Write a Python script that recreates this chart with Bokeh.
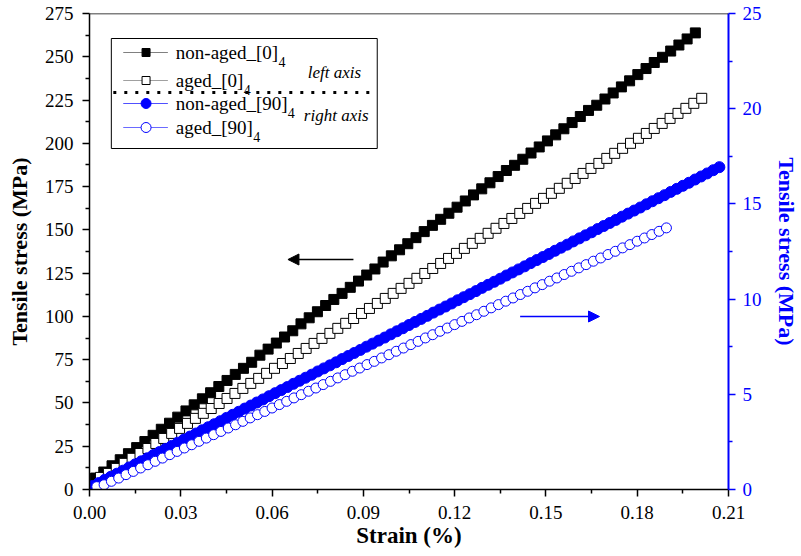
from bokeh.plotting import figure
from bokeh.models import (Range1d, LinearAxis, FixedTicker, PrintfTickFormatter,
                          Span, Arrow, NormalHead)
from bokeh.core.properties import value
from bokeh.embed import file_html
from bokeh.resources import INLINE

# ---------------- data ----------------
strain_na0 = [0.0020, 0.0047, 0.0074, 0.0101, 0.0128, 0.0155, 0.0182, 0.0209, 0.0236, 0.0263,
              0.0290, 0.0317, 0.0344, 0.0371, 0.0398, 0.0425, 0.0452, 0.0479, 0.0506, 0.0533,
              0.0560, 0.0587, 0.0614, 0.0641, 0.0668, 0.0695, 0.0722, 0.0749, 0.0776, 0.0803,
              0.0830, 0.0857, 0.0884, 0.0911, 0.0938, 0.0965, 0.0992, 0.1019, 0.1046, 0.1073,
              0.1100, 0.1127, 0.1154, 0.1181, 0.1208, 0.1235, 0.1262, 0.1289, 0.1316, 0.1343,
              0.1370, 0.1397, 0.1424, 0.1451, 0.1478, 0.1505, 0.1532, 0.1559, 0.1586, 0.1613,
              0.1640, 0.1667, 0.1694, 0.1721, 0.1748, 0.1775, 0.1802, 0.1829, 0.1856, 0.1883,
              0.1910, 0.1937, 0.1964, 0.1991]
stress_na0 = [6.6, 10.1, 13.7, 17.2, 20.7, 24.2, 27.7, 31.3, 34.8, 38.3,
              41.8, 45.4, 48.9, 52.4, 55.9, 59.5, 63.0, 66.5, 70.0, 73.5,
              77.6, 81.1, 84.6, 88.1, 91.7, 95.7, 99.2, 102.7, 106.3, 109.8,
              113.3, 116.8, 120.4, 123.9, 127.4, 131.4, 135.0, 138.5, 142.0, 145.5,
              149.0, 152.6, 156.1, 159.6, 163.1, 166.7, 170.2, 173.7, 177.2, 180.8,
              184.3, 187.3, 190.8, 194.4, 197.9, 201.4, 204.9, 208.4, 212.0, 215.5,
              219.0, 222.0, 225.6, 229.1, 232.6, 236.1, 239.7, 243.2, 246.7, 249.7,
              253.3, 256.8, 260.3, 263.8]

strain_a0 = [0.0036, 0.0062, 0.0088, 0.0114, 0.0140, 0.0166, 0.0192, 0.0218, 0.0244, 0.0270,
             0.0296, 0.0322, 0.0348, 0.0374, 0.0400, 0.0426, 0.0452, 0.0478, 0.0504, 0.0530,
             0.0556, 0.0582, 0.0608, 0.0634, 0.0660, 0.0686, 0.0712, 0.0738, 0.0764, 0.0790,
             0.0816, 0.0842, 0.0868, 0.0894, 0.0920, 0.0946, 0.0972, 0.0998, 0.1024, 0.1050,
             0.1076, 0.1102, 0.1128, 0.1154, 0.1180, 0.1206, 0.1232, 0.1258, 0.1284, 0.1310,
             0.1336, 0.1362, 0.1388, 0.1414, 0.1440, 0.1466, 0.1492, 0.1518, 0.1544, 0.1570,
             0.1596, 0.1622, 0.1648, 0.1674, 0.1700, 0.1726, 0.1752, 0.1778, 0.1804, 0.1830,
             0.1856, 0.1882, 0.1908, 0.1934, 0.1960, 0.1986, 0.2012]
stress_a0 = [7.0, 9.3, 12.2, 15.1, 18.0, 20.8, 23.7, 26.6, 29.5, 32.4,
             35.3, 38.2, 41.1, 44.0, 46.8, 49.7, 52.6, 55.5, 58.4, 61.3,
             64.2, 67.1, 70.0, 72.8, 75.7, 78.6, 81.5, 84.4, 87.3, 90.2,
             93.1, 96.0, 98.8, 101.7, 104.6, 107.5, 110.4, 113.3, 116.2, 119.1,
             122.0, 124.8, 127.7, 130.6, 133.5, 136.4, 139.3, 142.2, 145.1, 148.0,
             150.9, 153.7, 156.6, 159.5, 162.4, 165.3, 168.2, 171.1, 174.0, 176.9,
             179.7, 182.6, 185.5, 188.4, 191.3, 194.2, 197.1, 200.0, 202.9, 205.7,
             208.6, 211.5, 214.4, 217.3, 220.2, 223.1, 226.0]

strain_na90 = [0.001, 0.003, 0.005, 0.007, 0.009, 0.011, 0.013, 0.015, 0.017, 0.019,
               0.021, 0.023, 0.025, 0.027, 0.029, 0.031, 0.033, 0.035, 0.037, 0.039,
               0.041, 0.043, 0.045, 0.047, 0.049, 0.051, 0.053, 0.055, 0.057, 0.059,
               0.061, 0.063, 0.065, 0.067, 0.069, 0.071, 0.073, 0.075, 0.077, 0.079,
               0.081, 0.083, 0.085, 0.087, 0.089, 0.091, 0.093, 0.095, 0.097, 0.099,
               0.101, 0.103, 0.105, 0.107, 0.109, 0.111, 0.113, 0.115, 0.117, 0.119,
               0.121, 0.123, 0.125, 0.127, 0.129, 0.131, 0.133, 0.135, 0.137, 0.139,
               0.141, 0.143, 0.145, 0.147, 0.149, 0.151, 0.153, 0.155, 0.157, 0.159,
               0.161, 0.163, 0.165, 0.167, 0.169, 0.171, 0.173, 0.175, 0.177, 0.179,
               0.181, 0.183, 0.185, 0.187, 0.189, 0.191, 0.193, 0.195, 0.197, 0.199,
               0.201, 0.203, 0.205, 0.207]
stress_na90 = [0.18, 0.34, 0.51, 0.67, 0.83, 0.99, 1.16, 1.32, 1.48, 1.64,
               1.81, 1.97, 2.13, 2.29, 2.46, 2.62, 2.78, 2.94, 3.11, 3.27,
               3.43, 3.59, 3.76, 3.92, 4.08, 4.25, 4.41, 4.57, 4.73, 4.90,
               5.06, 5.22, 5.38, 5.55, 5.71, 5.87, 6.03, 6.20, 6.36, 6.52,
               6.68, 6.85, 7.01, 7.17, 7.33, 7.50, 7.66, 7.82, 7.98, 8.15,
               8.31, 8.47, 8.64, 8.80, 8.96, 9.12, 9.29, 9.45, 9.61, 9.77,
               9.94, 10.10, 10.26, 10.42, 10.59, 10.75, 10.91, 11.07, 11.24, 11.40,
               11.56, 11.72, 11.89, 12.05, 12.21, 12.37, 12.54, 12.70, 12.86, 13.03,
               13.19, 13.35, 13.51, 13.68, 13.84, 14.00, 14.16, 14.33, 14.49, 14.65,
               14.81, 14.98, 15.14, 15.30, 15.46, 15.63, 15.79, 15.95, 16.11, 16.28,
               16.44, 16.60, 16.77, 16.93]

strain_a90 = [0.0024, 0.0048, 0.0072, 0.0096, 0.0120, 0.0144, 0.0168, 0.0192, 0.0216, 0.0240,
              0.0264, 0.0288, 0.0312, 0.0336, 0.0360, 0.0384, 0.0408, 0.0432, 0.0456, 0.0480,
              0.0504, 0.0528, 0.0552, 0.0576, 0.0600, 0.0624, 0.0648, 0.0672, 0.0696, 0.0720,
              0.0744, 0.0768, 0.0792, 0.0816, 0.0840, 0.0864, 0.0888, 0.0912, 0.0936, 0.0960,
              0.0984, 0.1008, 0.1032, 0.1056, 0.1080, 0.1104, 0.1128, 0.1152, 0.1176, 0.1200,
              0.1224, 0.1248, 0.1272, 0.1296, 0.1320, 0.1344, 0.1368, 0.1392, 0.1416, 0.1440,
              0.1464, 0.1488, 0.1512, 0.1536, 0.1560, 0.1584, 0.1608, 0.1632, 0.1656, 0.1680,
              0.1704, 0.1728, 0.1752, 0.1776, 0.1800, 0.1824, 0.1848, 0.1872, 0.1896]
stress_a90 = [0.15, 0.25, 0.43, 0.60, 0.78, 0.95, 1.13, 1.30, 1.48, 1.65,
              1.83, 2.00, 2.18, 2.35, 2.53, 2.70, 2.88, 3.05, 3.23, 3.40,
              3.58, 3.76, 3.93, 4.10, 4.28, 4.46, 4.63, 4.81, 4.98, 5.16,
              5.33, 5.51, 5.68, 5.86, 6.03, 6.21, 6.38, 6.56, 6.73, 6.91,
              7.08, 7.26, 7.43, 7.61, 7.78, 7.96, 8.13, 8.31, 8.48, 8.66,
              8.83, 9.01, 9.18, 9.36, 9.54, 9.71, 9.89, 10.06, 10.24, 10.41,
              10.59, 10.76, 10.94, 11.11, 11.29, 11.46, 11.64, 11.81, 11.99, 12.16,
              12.34, 12.51, 12.69, 12.86, 13.04, 13.21, 13.39, 13.56, 13.74]

x_ticks = [0.00, 0.03, 0.06, 0.09, 0.12, 0.15, 0.18, 0.21]
x_minor = [0.015, 0.045, 0.075, 0.105, 0.135, 0.165, 0.195]
yl_ticks = [0, 25, 50, 75, 100, 125, 150, 175, 200, 225, 250, 275]
yl_minor = [12.5, 37.5, 62.5, 87.5, 112.5, 137.5, 162.5, 187.5, 212.5, 237.5, 262.5]
yr_ticks = [0, 5, 10, 15, 20, 25]
yr_minor = [2.5, 7.5, 12.5, 17.5, 22.5]

legend_labels = ["non-aged_[0]", "aged_[0]", "non-aged_[90]", "aged_[90]"]
legend_subs = ["4", "4", "4", "4"]

# ---------------- layout ----------------
W, H = 801, 556
L, R, T, B = 89, 68, 13, 67
XMIN, XMAX = 0.0, 0.21
YMIN, YMAX = 0.0, 275.0
FW = W - L - R
FH = H - T - B
BLUE = "#0000FF"
FONT_NAME = "Liberation Serif"
FONT = value(FONT_NAME)


def dx(px):
    return XMIN + (px - L) / FW * (XMAX - XMIN)


def dy(py):
    return YMAX - (py - T) / FH * (YMAX - YMIN)


p = figure(width=W, height=H, output_backend="svg", toolbar_location=None,
           x_range=Range1d(XMIN, XMAX), y_range=Range1d(YMIN, YMAX),
           min_border_left=L, min_border_right=R, min_border_top=T, min_border_bottom=B)
p.extra_y_ranges = {"right": Range1d(0, 25)}
p.xgrid.visible = False
p.ygrid.visible = False
p.outline_line_color = None
p.background_fill_color = "white"
p.border_fill_color = "white"

# data series
p.line(strain_na0, stress_na0, line_color="black", line_width=1)
p.scatter(strain_na0, stress_na0, marker="square", size=10,
          fill_color="black", line_color="black")
p.line(strain_a0, stress_a0, line_color="black", line_width=1)
p.scatter(strain_a0, stress_a0, marker="square", size=10,
          fill_color="white", line_color="black", line_width=1)
p.line(strain_na90, stress_na90, line_color=BLUE, line_width=1, y_range_name="right")
p.scatter(strain_na90, stress_na90, marker="circle", size=11,
          fill_color=BLUE, line_color=BLUE, y_range_name="right")
p.line(strain_a90, stress_a90, line_color=BLUE, line_width=1, y_range_name="right")
p.scatter(strain_a90, stress_a90, marker="circle", size=10,
          fill_color="white", line_color=BLUE, line_width=1, y_range_name="right")

# axes
xa = p.xaxis[0]
xa.ticker = FixedTicker(ticks=x_ticks, minor_ticks=x_minor)
xa.formatter = PrintfTickFormatter(format="%.2f")
xa.axis_label = "Strain (%)"

ya = p.yaxis[0]
ya.ticker = FixedTicker(ticks=yl_ticks, minor_ticks=yl_minor)
ya.axis_label = "Tensile stress (MPa)"

yr = LinearAxis(y_range_name="right", axis_label="Tensile stress (MPa)",
                ticker=FixedTicker(ticks=yr_ticks, minor_ticks=yr_minor))
p.add_layout(yr, "right")

for ax, col in ((xa, "black"), (ya, "black"), (yr, BLUE)):
    ax.axis_line_color = col
    ax.axis_line_width = 2 if col == BLUE else 1.5
    ax.major_tick_line_color = col
    ax.minor_tick_line_color = col
    ax.major_tick_line_width = 1.5
    ax.minor_tick_line_width = 1.5
    ax.major_tick_in = 0
    ax.major_tick_out = 7
    ax.minor_tick_in = 0
    ax.minor_tick_out = 4
    ax.major_label_text_font = FONT_NAME
    ax.major_label_text_font_size = "19px"
    ax.major_label_text_color = col
    ax.axis_label_text_font = FONT_NAME
    ax.axis_label_text_font_size = "22px"
    ax.axis_label_text_font_style = "bold"
    ax.axis_label_text_color = col

xa.axis_label_text_font_size = "23px"
xa.major_label_standoff = 9
xa.axis_label_standoff = 1
ya.major_label_standoff = 9
ya.axis_label_standoff = 10
yr.major_label_standoff = 7
yr.axis_label_standoff = 9

# top border
p.add_layout(Span(location=YMAX, dimension="width", line_color="black", line_width=1.5))

# arrows
p.add_layout(Arrow(end=NormalHead(size=11, fill_color="black", line_color="black"),
                   x_start=dx(355), y_start=dy(259), x_end=dx(289), y_end=dy(259),
                   line_color="black", line_width=1.5))
p.add_layout(Arrow(end=NormalHead(size=11, fill_color=BLUE, line_color=BLUE),
                   x_start=dx(523), y_start=dy(316), x_end=dx(603), y_end=dy(316),
                   line_color=BLUE, line_width=1.5))

# legend (drawn by hand)
p.quad(left=[dx(111)], right=[dx(379)], top=[dy(38)], bottom=[dy(148)],
       fill_color="white", line_color="black", line_width=1)
p.line([dx(113), dx(378)], [dy(92), dy(92)], line_color="black", line_width=3,
       line_dash="3 8")

row_y = [52, 80, 103, 127]
line_cols = ["#808080", "#a0a0a0", "#5050ff", "#6a6aff"]
text_em = [5.387, 3.554, 5.887, 4.054]
LFS = 19
for i, lab in enumerate(legend_labels):
    yy = dy(row_y[i])
    p.line([dx(123), dx(168)], [yy, yy], line_color=line_cols[i], line_width=1.2)
    if i == 0:
        p.scatter([dx(146)], [yy], marker="square", size=8, fill_color="black", line_color="black")
    elif i == 1:
        p.scatter([dx(146)], [yy], marker="square", size=8, fill_color="white", line_color="black")
    elif i == 2:
        p.scatter([dx(146)], [yy], marker="circle", size=10, fill_color=BLUE, line_color=BLUE)
    else:
        p.scatter([dx(146)], [yy], marker="circle", size=10, fill_color="white", line_color=BLUE)
    p.text(x=[dx(176)], y=[yy], text=[lab], text_font=FONT, text_font_size=f"{LFS}px",
           text_baseline="middle", text_align="left", text_color="black")
    sx = 176 + text_em[i] * LFS + 1
    p.text(x=[dx(sx)], y=[dy(row_y[i] + 9)], text=[legend_subs[i]], text_font=FONT,
           text_font_size="14px", text_baseline="middle", text_align="left",
           text_color="black")

p.text(x=[dx(309)], y=[dy(72)], text=["left axis"], text_font=FONT, text_font_size="17px",
       text_font_style="italic", text_baseline="middle", text_align="left", text_color="black")
p.text(x=[dx(305)], y=[dy(115)], text=["right axis"], text_font=FONT, text_font_size="17px",
       text_font_style="italic", text_baseline="middle", text_align="left", text_color="black")

open("out.html", "w").write(file_html(p, INLINE))
